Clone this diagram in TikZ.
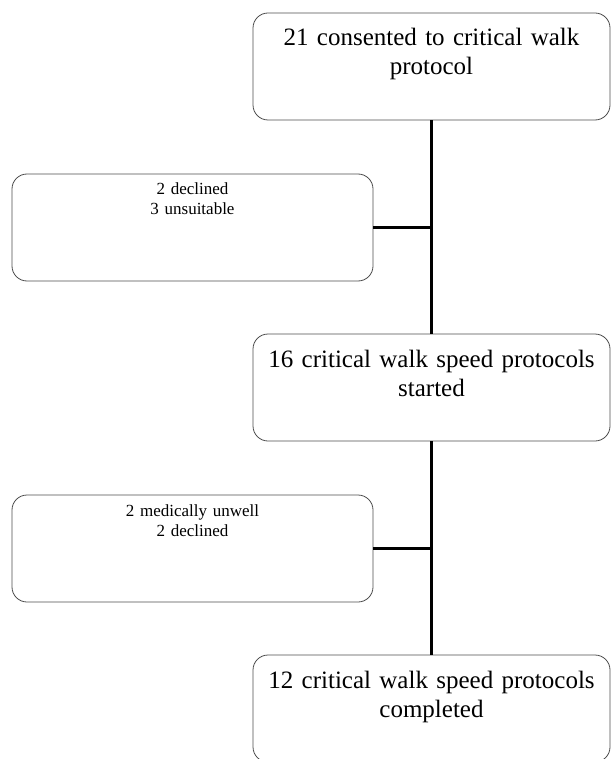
\documentclass[tikz,border=0pt]{standalone}
\usepackage{fontspec}
\setmainfont{Liberation Serif}
\usetikzlibrary{positioning}
\tikzstyle{line} = [line width=2.5pt, black]
\tikzstyle{stage} = [rectangle, rounded corners=15pt, minimum width=357pt, text width=345pt, align=center, inner sep=3pt, text height=30pt, text depth=71pt, draw=black!70, line width=0.8pt, font=\fontsize{25}{29}\selectfont]
\tikzstyle{excluded} = [rectangle, rounded corners=15pt, minimum width=361pt, text width=350pt, align=center, inner sep=3pt, text height=18pt, text depth=83pt, draw=black!70, line width=0.8pt, font=\fontsize{17}{20}\selectfont]

\begin{document}
\begin{tikzpicture}[node distance=321pt]
\useasboundingbox (0,0) rectangle (611pt,-759pt);

% Stages
\node (consent) [stage] at (431.5pt,-66.5pt) {21 consented to critical walk\\protocol};
\node (started) [stage, below of=consent] {16 critical walk speed protocols\\started};
\node (completed) [stage, below of=started] {12 critical walk speed protocols\\completed};

% Exclusions
\node (excl_a) [excluded, left of=consent, xshift=82pt, yshift=-161pt] {2 declined\\3 unsuitable};
\node (excl_b) [excluded, left of=started, xshift=82pt, yshift=-161pt] {2 medically unwell\\2 declined};

% Connections
\draw [line] (consent) -- (started);
\draw [line] (started) -- (completed);
\draw [line] (excl_a.east) -- (excl_a.east -| consent.south);
\draw [line] (excl_b.east) -- (excl_b.east -| started.south);

\end{tikzpicture}
\end{document}
